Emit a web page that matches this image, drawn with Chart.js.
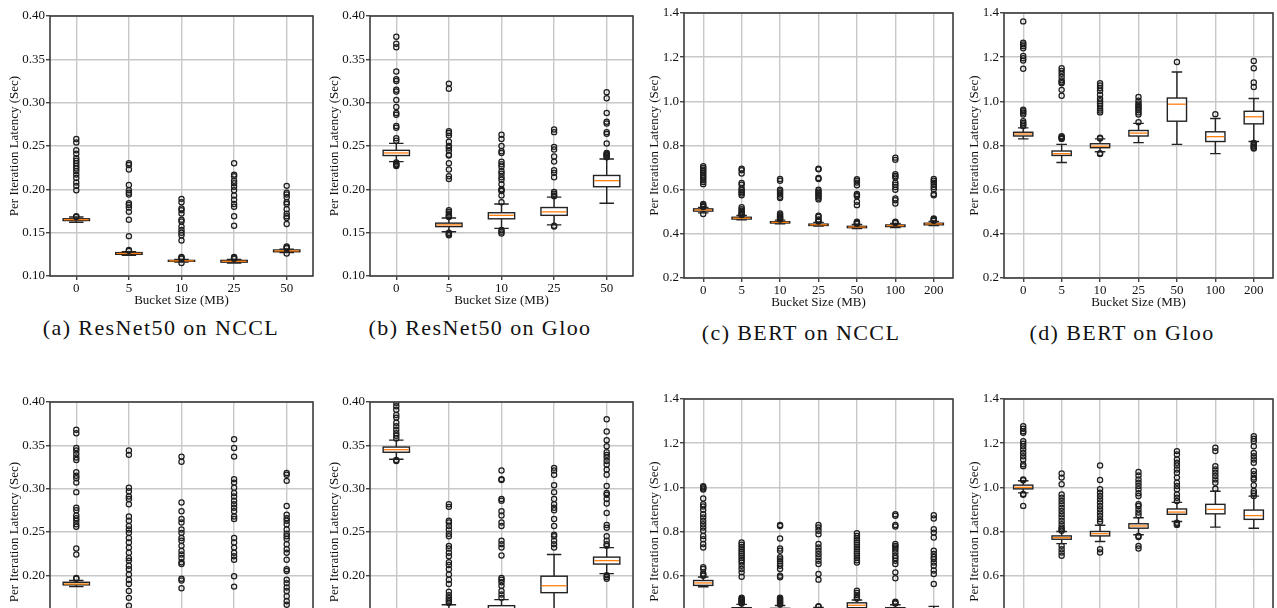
<!DOCTYPE html>
<html><head><meta charset="utf-8">
<script src="https://cdn.jsdelivr.net/npm/chart.js@4.4.1/dist/chart.umd.min.js"></script>
<style>
html,body{margin:0;padding:0;background:#fff;overflow:hidden;width:1277px;height:608px;position:relative}
canvas{position:absolute}
.cap{position:absolute;font-family:'Liberation Serif',serif;font-size:22px;color:#111;letter-spacing:1.4px;white-space:nowrap;transform:translate(-50%,-50%)}
</style></head><body>
<div class="cap" style="left:161px;top:328px">(a) ResNet50 on NCCL</div>
<div class="cap" style="left:480px;top:328px">(b) ResNet50 on Gloo</div>
<div class="cap" style="left:801px;top:333px">(c) BERT on NCCL</div>
<div class="cap" style="left:1122px;top:333px">(d) BERT on Gloo</div>
<script>
// ---------- categories & ticks ----------
const catsResNet = ['0','5','10','25','50'];
const catsBert = ['0','5','10','25','50','100','200'];
const yTicksResNet = [0.10,0.15,0.20,0.25,0.30,0.35,0.40];
const yTicksBert = [0.2,0.4,0.6,0.8,1.0,1.2,1.4];
const yTitle = 'Per Iteration Latency (Sec)';
const xTitle = 'Bucket Size (MB)';

// ---------- (a) ResNet50 on NCCL ----------
const aLow  = [0.162,0.124,0.116,0.115,0.127];
const aQ1   = [0.164,0.125,0.117,0.116,0.128];
const aMed  = [0.165,0.126,0.1175,0.117,0.129];
const aQ3   = [0.166,0.127,0.118,0.118,0.130];
const aHigh = [0.168,0.128,0.119,0.119,0.131];
const aOut = [
 [0.258,0.254,0.245,0.241,0.236,0.233,0.230,0.227,0.224,0.221,0.217,0.213,0.208,0.204,0.199,0.169,0.168],
 [0.230,0.228,0.223,0.205,0.199,0.196,0.194,0.184,0.182,0.179,0.174,0.165,0.146,0.130,0.129],
 [0.189,0.185,0.178,0.176,0.172,0.165,0.163,0.157,0.153,0.150,0.147,0.141,0.122,0.121,0.120,0.115],
 [0.230,0.217,0.215,0.210,0.207,0.203,0.199,0.193,0.188,0.183,0.180,0.169,0.158,0.122,0.121,0.120],
 [0.204,0.196,0.194,0.191,0.185,0.183,0.177,0.172,0.169,0.167,0.160,0.134,0.133,0.132,0.126]
];
// ---------- (b) ResNet50 on Gloo ----------
const bLow  = [0.232,0.151,0.155,0.159,0.184];
const bQ1   = [0.239,0.157,0.166,0.170,0.203];
const bMed  = [0.242,0.159,0.170,0.174,0.210];
const bQ3   = [0.245,0.161,0.173,0.179,0.216];
const bHigh = [0.253,0.167,0.183,0.191,0.235];
const bOut = [
 [0.376,0.368,0.364,0.336,0.327,0.325,0.315,0.313,0.303,0.295,0.288,0.286,0.273,0.271,0.259,0.256,0.231,0.229,0.228,0.227],
 [0.322,0.316,0.267,0.265,0.262,0.255,0.250,0.248,0.245,0.240,0.239,0.230,0.223,0.215,0.212,0.176,0.174,0.172,0.170,0.169,0.168,0.150,0.149,0.148,0.147],
 [0.263,0.258,0.250,0.244,0.242,0.232,0.229,0.226,0.221,0.218,0.214,0.211,0.206,0.200,0.199,0.198,0.193,0.185,0.153,0.151,0.149],
 [0.269,0.266,0.249,0.246,0.238,0.232,0.222,0.219,0.214,0.197,0.195,0.193,0.192,0.158,0.157],
 [0.312,0.305,0.288,0.278,0.276,0.266,0.264,0.253,0.242,0.241,0.240,0.239,0.238,0.237]
];
// ---------- (c) BERT on NCCL ----------
const cLow  = [0.495,0.463,0.445,0.435,0.424,0.428,0.437];
const cQ1   = [0.503,0.467,0.449,0.438,0.428,0.433,0.441];
const cMed  = [0.508,0.471,0.452,0.441,0.431,0.437,0.445];
const cQ3   = [0.513,0.475,0.455,0.444,0.434,0.440,0.448];
const cHigh = [0.520,0.483,0.462,0.452,0.442,0.447,0.456];
const cOut = [
 [0.706,0.698,0.690,0.683,0.676,0.668,0.660,0.652,0.643,0.635,0.625,0.535,0.530,0.525,0.522,0.490],
 [0.695,0.688,0.673,0.630,0.622,0.605,0.597,0.590,0.583,0.575,0.520,0.512,0.505,0.498,0.493,0.488,0.485],
 [0.648,0.640,0.600,0.593,0.585,0.578,0.568,0.562,0.492,0.486,0.480,0.476,0.472,0.468,0.465],
 [0.695,0.692,0.653,0.648,0.600,0.592,0.585,0.578,0.570,0.563,0.556,0.482,0.477,0.465,0.460,0.456],
 [0.647,0.640,0.632,0.620,0.580,0.575,0.570,0.545,0.530,0.455,0.452,0.449,0.446],
 [0.745,0.735,0.670,0.662,0.655,0.632,0.622,0.612,0.600,0.560,0.552,0.537,0.455,0.452,0.449],
 [0.648,0.640,0.632,0.622,0.612,0.602,0.580,0.575,0.470,0.466,0.462,0.459]
];
// ---------- (d) BERT on Gloo ----------
const dLow  = [0.830,0.723,0.772,0.813,0.805,0.763,0.818];
const dQ1   = [0.843,0.755,0.790,0.843,0.910,0.818,0.898];
const dMed  = [0.852,0.763,0.797,0.856,0.987,0.840,0.930];
const dQ3   = [0.860,0.775,0.808,0.868,1.015,0.862,0.955];
const dHigh = [0.880,0.805,0.830,0.900,1.133,0.922,1.013];
const dOut = [
 [1.362,1.265,1.258,1.250,1.240,1.205,1.195,1.185,1.148,0.962,0.955,0.948,0.940,0.910,0.902,0.895,0.888],
 [1.150,1.138,1.125,1.110,1.095,1.088,1.082,1.052,1.025,0.842,0.838,0.834,0.830],
 [1.082,1.072,1.060,1.048,1.030,1.012,1.000,0.990,0.980,0.968,0.958,0.950,0.835,0.832,0.765,0.762],
 [1.020,1.003,0.990,0.982,0.975,0.968,0.960,0.950,0.940,0.905],
 [1.178],
 [0.942],
 [1.183,1.150,1.085,1.065,0.812,0.805,0.800,0.795,0.790,0.786]
];
// ---------- (e) bottom-left ----------
const eLow  = [0.187,0.120,0.125,0.125,0.122];
const eQ1   = [0.189,0.135,0.140,0.140,0.138];
const eMed  = [0.190,0.140,0.145,0.146,0.142];
const eQ3   = [0.192,0.145,0.150,0.151,0.147];
const eHigh = [0.194,0.155,0.160,0.158,0.157];
const eOut = [
 [0.368,0.364,0.347,0.344,0.340,0.336,0.333,0.319,0.315,0.312,0.307,0.296,0.278,0.275,0.269,0.266,0.263,0.259,0.256,0.231,0.224,0.197,0.196],
 [0.344,0.339,0.301,0.297,0.291,0.288,0.282,0.268,0.263,0.257,0.253,0.249,0.243,0.238,0.232,0.226,0.220,0.217,0.211,0.207,0.201,0.195,0.190,0.182,0.174,0.165],
 [0.337,0.331,0.284,0.274,0.265,0.261,0.253,0.249,0.243,0.240,0.234,0.228,0.224,0.220,0.215,0.213,0.196,0.194,0.185],
 [0.357,0.347,0.337,0.311,0.307,0.301,0.295,0.291,0.286,0.282,0.278,0.274,0.268,0.265,0.243,0.238,0.232,0.226,0.222,0.218,0.199,0.187],
 [0.318,0.316,0.309,0.280,0.270,0.266,0.263,0.259,0.253,0.248,0.245,0.242,0.236,0.230,0.226,0.218,0.207,0.205,0.195,0.191,0.186,0.182,0.176,0.170,0.166]
];
// ---------- (f) ----------
const fLow  = [0.334,0.146,0.148,0.155,0.202];
const fQ1   = [0.342,0.153,0.156,0.180,0.213];
const fMed  = [0.345,0.157,0.160,0.188,0.217];
const fQ3   = [0.348,0.160,0.165,0.199,0.221];
const fHigh = [0.356,0.166,0.172,0.224,0.232];
const fOut = [
 [0.399,0.395,0.391,0.385,0.382,0.376,0.372,0.368,0.364,0.361,0.358,0.333,0.332],
 [0.282,0.279,0.263,0.261,0.257,0.253,0.248,0.245,0.234,0.231,0.226,0.222,0.215,0.212,0.207,0.201,0.195,0.190,0.181,0.177,0.174,0.172,0.170,0.168],
 [0.321,0.311,0.310,0.288,0.286,0.274,0.269,0.261,0.257,0.240,0.236,0.232,0.223,0.197,0.195,0.192,0.188,0.182,0.178,0.174],
 [0.324,0.321,0.316,0.304,0.296,0.288,0.282,0.278,0.275,0.265,0.257,0.247,0.245,0.240,0.236,0.232],
 [0.380,0.366,0.356,0.349,0.342,0.339,0.336,0.332,0.328,0.322,0.316,0.303,0.295,0.293,0.288,0.283,0.272,0.258,0.255,0.245,0.240,0.236,0.234,0.200,0.198,0.196]
];
// ---------- (g) ----------
const gLow  = [0.550,0.430,0.428,0.425,0.440,0.430,0.428];
const gQ1   = [0.556,0.442,0.440,0.436,0.455,0.442,0.438];
const gMed  = [0.567,0.448,0.446,0.441,0.466,0.448,0.444];
const gQ3   = [0.578,0.455,0.452,0.447,0.477,0.455,0.450];
const gHigh = [0.594,0.470,0.465,0.456,0.490,0.468,0.461];
const gOut = [
 [1.005,1.000,0.995,0.990,0.949,0.923,0.913,0.898,0.878,0.863,0.848,0.833,0.818,0.803,0.780,0.765,0.743,0.728,0.638,0.630,0.610,0.605,0.600],
 [0.750,0.740,0.730,0.720,0.710,0.700,0.690,0.680,0.670,0.660,0.645,0.630,0.615,0.595,0.500,0.495,0.490,0.486,0.482,0.478,0.474],
 [0.829,0.825,0.768,0.723,0.713,0.683,0.675,0.665,0.655,0.645,0.630,0.600,0.593,0.500,0.495,0.490,0.485,0.480,0.475,0.470],
 [0.830,0.818,0.803,0.788,0.743,0.728,0.713,0.698,0.683,0.668,0.653,0.608,0.582,0.462,0.459],
 [0.792,0.780,0.770,0.760,0.750,0.740,0.730,0.720,0.710,0.700,0.690,0.680,0.670,0.660,0.532,0.522,0.512,0.503,0.497],
 [0.878,0.871,0.829,0.823,0.743,0.735,0.728,0.718,0.705,0.690,0.680,0.668,0.653,0.615,0.588,0.482,0.478,0.474],
 [0.874,0.859,0.810,0.795,0.773,0.713,0.698,0.685,0.675,0.660,0.645,0.623,0.608,0.562]
];
// ---------- (h) ----------
const hLow  = [0.975,0.745,0.755,0.785,0.845,0.820,0.815];
const hQ1   = [0.993,0.765,0.780,0.815,0.878,0.880,0.855];
const hMed  = [1.000,0.772,0.790,0.825,0.888,0.900,0.872];
const hQ3   = [1.010,0.780,0.800,0.835,0.902,0.923,0.897];
const hHigh = [1.030,0.800,0.828,0.862,0.932,0.982,0.960];
const hOut = [
 [1.277,1.265,1.254,1.247,1.209,1.198,1.186,1.171,1.156,1.141,1.126,1.104,1.096,1.036,1.032,0.970,0.966,0.916],
 [1.063,1.044,1.014,0.968,0.953,0.938,0.923,0.908,0.893,0.878,0.863,0.848,0.833,0.818,0.810,0.803,0.735,0.720,0.705,0.690],
 [1.099,1.033,0.991,0.976,0.961,0.946,0.931,0.916,0.901,0.886,0.871,0.856,0.844,0.720,0.705],
 [1.069,1.054,1.036,1.021,1.006,0.991,0.973,0.961,0.923,0.916,0.901,0.886,0.874,0.780,0.775,0.735,0.723],
 [1.164,1.149,1.126,1.111,1.099,1.081,1.066,1.044,1.021,1.006,0.991,0.968,0.953,0.938,0.840,0.835,0.830],
 [1.179,1.164,1.096,1.081,1.066,1.051,1.036,1.021,0.994],
 [1.232,1.220,1.209,1.186,1.156,1.141,1.126,1.111,1.074,1.059,1.044,1.036,1.009,0.983,0.973,0.961]
];

// ---------- drawing ----------
const FONT = "'Liberation Serif', 'Times New Roman', serif";

const boxPlugin = {
  id: 'boxes',
  beforeDatasetsDraw(chart, args, o) {
    const ctx = chart.ctx, xs = chart.scales.x, ys = chart.scales.y;
    const step = xs.getPixelForValue(1) - xs.getPixelForValue(0);
    const bw = step * 0.5, cw = bw * 0.55;
    ctx.save();
    for (let i = 0; i < o.med.length; i++) {
      const cx = xs.getPixelForValue(i);
      const yLo = ys.getPixelForValue(o.low[i]), yQ1 = ys.getPixelForValue(o.q1[i]);
      const yMd = ys.getPixelForValue(o.med[i]), yQ3 = ys.getPixelForValue(o.q3[i]);
      const yHi = ys.getPixelForValue(o.high[i]);
      ctx.strokeStyle = '#222'; ctx.lineWidth = 1.4;
      ctx.beginPath();
      ctx.moveTo(cx, yQ1); ctx.lineTo(cx, yLo);
      ctx.moveTo(cx, yQ3); ctx.lineTo(cx, yHi);
      ctx.moveTo(cx - cw/2, yLo); ctx.lineTo(cx + cw/2, yLo);
      ctx.moveTo(cx - cw/2, yHi); ctx.lineTo(cx + cw/2, yHi);
      ctx.stroke();
      ctx.fillStyle = '#fff';
      ctx.fillRect(cx - bw/2, yQ3, bw, yQ1 - yQ3);
      ctx.strokeRect(cx - bw/2, yQ3, bw, yQ1 - yQ3);
      ctx.strokeStyle = '#ff7f0e'; ctx.lineWidth = 1.3;
      ctx.beginPath(); ctx.moveTo(cx - bw/2 + 0.8, yMd); ctx.lineTo(cx + bw/2 - 0.8, yMd); ctx.stroke();
    }
    ctx.restore();
  },
  afterDraw(chart) {
    const {ctx, chartArea: a} = chart;
    ctx.save(); ctx.strokeStyle = '#3c3c3c'; ctx.lineWidth = 1.6;
    ctx.strokeRect(a.left, a.top, a.right - a.left, a.bottom - a.top);
    ctx.restore();
  }
};

function panel(p) {
  const c = document.createElement('canvas');
  const h = p.padTop + p.plotH + 34;
  c.width = p.width; c.height = h;
  c.style.left = p.left + 'px'; c.style.top = p.top + 'px';
  c.style.width = p.width + 'px'; c.style.height = h + 'px';
  document.body.appendChild(c);
  const pts = [];
  p.out.forEach((arr, i) => arr.forEach(v => pts.push({x: p.cats[i], y: v})));
  new Chart(c, {
    type: 'line',
    data: {labels: p.cats, datasets: [{data: pts, showLine: false, pointRadius: 2.6, pointBorderWidth: 1.25,
      pointBorderColor: '#1e1e1e', pointBackgroundColor: 'rgba(0,0,0,0)', pointHoverRadius: 2.6}]},
    options: {
      responsive: false, animation: false, events: [], devicePixelRatio: 1,
      layout: {padding: {top: p.padTop, right: p.padRight, left: 0, bottom: 0}},
      plugins: {legend: {display: false}, tooltip: {enabled: false},
        boxes: {low: p.low, q1: p.q1, med: p.med, q3: p.q3, high: p.high}},
      scales: {
        x: {type: 'category', offset: true,
          grid: {offset: false, color: '#c8c8c8', lineWidth: 1.4, tickColor: '#444', tickLength: 4},
          border: {display: false},
          ticks: {color: '#111', font: {family: FONT, size: 13}, padding: 1, maxRotation: 0, autoSkip: false},
          title: {display: true, text: xTitle, color: '#111', font: {family: FONT, size: 13}, padding: {top: 0, bottom: 2}},
          afterFit: s => { s.height = 34; }},
        y: {min: p.yTicks[0], max: p.yTicks[p.yTicks.length - 1],
          afterBuildTicks: s => { s.ticks = p.yTicks.map(v => ({value: v})); },
          grid: {color: '#c8c8c8', lineWidth: 1.4, tickColor: '#444', tickLength: 4},
          border: {display: false},
          ticks: {color: '#111', font: {family: FONT, size: 13}, padding: 1, callback: v => Number(v).toFixed(p.dec)},
          title: {display: true, text: yTitle, color: '#111', font: {family: FONT, size: 13}, padding: {top: 7, bottom: 0}},
          afterFit: s => { s.width = p.yAxisW; }}
      }
    },
    plugins: [boxPlugin]
  });
}

const R = {cats: catsResNet, yTicks: yTicksResNet, dec: 2, width: 320, yAxisW: 50, padRight: 7, plotH: 260};
const B = {cats: catsBert, yTicks: yTicksBert, dec: 1, yAxisW: 44, plotH: 265};
panel({...R, left: 0,   top: 0,   padTop: 16, low: aLow, q1: aQ1, med: aMed, q3: aQ3, high: aHigh, out: aOut});
panel({...R, left: 320, top: 0,   padTop: 16, low: bLow, q1: bQ1, med: bMed, q3: bQ3, high: bHigh, out: bOut});
panel({...B, left: 640, top: 0,   width: 320, padRight: 7, padTop: 13, low: cLow, q1: cQ1, med: cMed, q3: cQ3, high: cHigh, out: cOut});
panel({...B, left: 960, top: 0,   width: 317, padRight: 4, padTop: 13, low: dLow, q1: dQ1, med: dMed, q3: dQ3, high: dHigh, out: dOut});
panel({...R, left: 0,   top: 390, padTop: 12, low: eLow, q1: eQ1, med: eMed, q3: eQ3, high: eHigh, out: eOut});
panel({...R, left: 320, top: 390, padTop: 12, low: fLow, q1: fQ1, med: fMed, q3: fQ3, high: fHigh, out: fOut});
panel({...B, left: 640, top: 390, width: 320, padRight: 7, padTop: 9, low: gLow, q1: gQ1, med: gMed, q3: gQ3, high: gHigh, out: gOut});
panel({...B, left: 960, top: 390, width: 317, padRight: 4, padTop: 9, low: hLow, q1: hQ1, med: hMed, q3: hQ3, high: hHigh, out: hOut});
</script>
</body></html>
